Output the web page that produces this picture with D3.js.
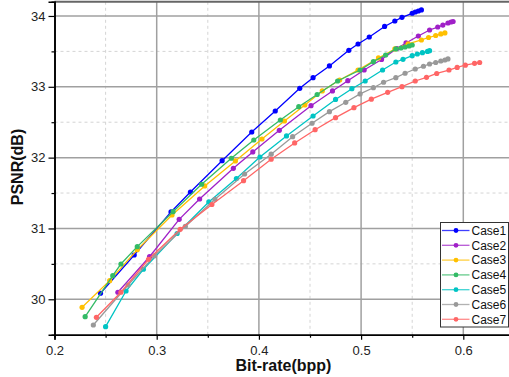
<!DOCTYPE html>
<html><head><meta charset="utf-8">
<script src="https://cdn.jsdelivr.net/npm/d3@7/dist/d3.min.js"></script>
<style>body{margin:0;background:#fff}svg{display:block}text{font-family:"Liberation Sans",Arial,sans-serif}</style>
</head><body><svg id="c" width="509" height="377"></svg>
<script>
const seriesNames = ["Case1","Case2","Case3","Case4","Case5","Case6","Case7"];
const seriesColors = ["#0000ff","#a020c8","#ffc000","#33bb66","#00c4c4","#999999","#ff6666"];
const case1X = [0.245,0.278,0.314,0.333,0.364,0.393,0.416,0.440,0.453,0.469,0.488,0.497,0.508,0.523,0.533,0.540,0.550,0.553,0.556,0.559];
const case1Y = [30.085,30.625,31.233,31.515,31.957,32.362,32.658,32.979,33.129,33.294,33.515,33.604,33.703,33.852,33.929,33.981,34.038,34.056,34.070,34.085];
const case2X = [0.262,0.293,0.322,0.342,0.375,0.394,0.420,0.451,0.472,0.487,0.503,0.520,0.535,0.544,0.556,0.567,0.575,0.580,0.585,0.588,0.590];
const case2Y = [30.099,30.601,31.129,31.416,31.849,32.080,32.386,32.733,32.941,33.086,33.237,33.386,33.541,33.619,33.717,33.802,33.844,33.872,33.901,33.915,33.922];
const case3X = [0.227,0.254,0.281,0.315,0.347,0.377,0.403,0.425,0.445,0.462,0.479,0.497,0.517,0.533,0.546,0.559,0.566,0.573,0.578,0.582];
const case3Y = [29.887,30.263,30.700,31.190,31.600,31.953,32.263,32.517,32.743,32.941,33.096,33.237,33.407,33.534,33.605,33.661,33.696,33.724,33.746,33.760];
const case4X = [0.230,0.257,0.265,0.281,0.316,0.344,0.373,0.395,0.421,0.439,0.457,0.477,0.499,0.512,0.524,0.534,0.539,0.543,0.547,0.550];
const case4Y = [29.754,30.333,30.498,30.743,31.237,31.624,31.991,32.249,32.531,32.719,32.891,33.082,33.237,33.355,33.449,33.534,33.548,33.562,33.576,33.590];
const case5X = [0.250,0.270,0.287,0.320,0.351,0.378,0.401,0.427,0.453,0.475,0.491,0.504,0.521,0.534,0.541,0.550,0.555,0.560,0.565,0.567];
const case5Y = [29.613,30.117,30.424,30.929,31.374,31.705,32.009,32.306,32.588,32.821,32.973,33.082,33.237,33.350,33.388,33.439,33.463,33.482,33.499,33.510];
const case6X = [0.238,0.272,0.298,0.328,0.357,0.386,0.412,0.433,0.452,0.469,0.485,0.499,0.512,0.522,0.534,0.543,0.553,0.561,0.567,0.573,0.578,0.582,0.585];
const case6Y = [29.637,30.202,30.616,31.028,31.412,31.769,32.049,32.296,32.485,32.649,32.781,32.899,32.987,33.064,33.129,33.191,33.251,33.290,33.322,33.343,33.364,33.378,33.393];
const case7X = [0.241,0.265,0.292,0.323,0.354,0.385,0.412,0.435,0.455,0.475,0.493,0.510,0.526,0.540,0.553,0.564,0.574,0.586,0.594,0.602,0.611,0.616];
const case7Y = [29.746,30.099,30.565,30.988,31.338,31.674,31.977,32.207,32.394,32.564,32.705,32.825,32.922,33.002,33.082,33.134,33.188,33.237,33.273,33.305,33.332,33.343];
const xTicks = [0.2,0.3,0.4,0.5,0.6];
const xMinor = [0.25,0.35,0.45,0.55];
const yTicks = [30,31,32,33,34];
const yMinor = [30.5,31.5,32.5,33.5];
const xTitle = "Bit-rate(bpp)";
const yTitle = "PSNR(dB)";

const allX = [case1X,case2X,case3X,case4X,case5X,case6X,case7X];
const allY = [case1Y,case2Y,case3Y,case4Y,case5Y,case6Y,case7Y];
const series = seriesNames.map((n,i)=>({name:n,color:seriesColors[i],pts:allX[i].map((x,j)=>[x,allY[i][j]])}));

const L=54.5, R=514.4, T=1.8, B=334.7;
const x = d3.scaleLinear().domain([0.2,0.65]).range([L,R]);
const y = d3.scaleLinear().domain([29.5,34.2]).range([B,T]);
const svg = d3.select("#c");

// minor grid
svg.append("g").selectAll("line").data(xMinor).join("line")
  .attr("x1",d=>x(d)).attr("x2",d=>x(d)).attr("y1",T).attr("y2",B)
  .attr("stroke","#d4d4d4").attr("stroke-width",1).attr("stroke-dasharray","3,3");
svg.append("g").selectAll("line").data(yMinor).join("line")
  .attr("y1",d=>y(d)).attr("y2",d=>y(d)).attr("x1",L).attr("x2",R)
  .attr("stroke","#d4d4d4").attr("stroke-width",1).attr("stroke-dasharray","3,3");
// major grid
svg.append("g").selectAll("line").data(xTicks.slice(1)).join("line")
  .attr("x1",d=>x(d)).attr("x2",d=>x(d)).attr("y1",T).attr("y2",B)
  .attr("stroke","#a0a0a0").attr("stroke-width",1.5);
svg.append("g").selectAll("line").data(yTicks).join("line")
  .attr("y1",d=>y(d)).attr("y2",d=>y(d)).attr("x1",L).attr("x2",R)
  .attr("stroke","#a0a0a0").attr("stroke-width",1.5);
// top frame
svg.append("line").attr("x1",L).attr("x2",R).attr("y1",T).attr("y2",T).attr("stroke","#666").attr("stroke-width",2);

// axes
const xAxis = svg.append("g").attr("transform",`translate(0,${B})`)
  .call(d3.axisBottom(x).tickValues(xTicks).tickFormat(d3.format(".1f")).tickSize(5).tickPadding(6));
const xAxisMinor = svg.append("g").attr("transform",`translate(0,${B})`)
  .call(d3.axisBottom(x).tickValues(xMinor).tickFormat("").tickSize(3));
const yAxis = svg.append("g").attr("transform",`translate(${L},0)`)
  .call(d3.axisLeft(y).tickValues(yTicks).tickFormat(d3.format("d")).tickSize(6).tickPadding(3));
const yAxisMinor = svg.append("g").attr("transform",`translate(${L},0)`)
  .call(d3.axisLeft(y).tickValues(yMinor).tickFormat("").tickSize(3));
[xAxis,xAxisMinor,yAxis,yAxisMinor].forEach(g=>{
  g.select(".domain").attr("stroke","#000").attr("stroke-width",1.6);
  g.selectAll(".tick line").attr("stroke","#000").attr("stroke-width",1.2);
  g.selectAll("text").attr("font-size",13).attr("fill","#222").attr("font-family","Liberation Sans, Arial, sans-serif");
});

svg.append("text").attr("x",(L+R)/2-1).attr("y",371).attr("text-anchor","middle")
  .attr("font-size",16).attr("font-weight","bold").attr("fill","#111").text(xTitle);
svg.append("text").attr("transform","translate(23,167) rotate(-90)").attr("text-anchor","middle")
  .attr("font-size",16).attr("font-weight","bold").attr("fill","#111").text(yTitle);

// series
const line = d3.line().x(d=>x(d[0])).y(d=>y(d[1]));
const sg = svg.append("g").selectAll("g").data(series).join("g");
sg.append("path").attr("d",d=>line(d.pts)).attr("fill","none").attr("stroke",d=>d.color).attr("stroke-width",1.3);
sg.each(function(s){
  d3.select(this).selectAll("circle").data(s.pts).join("circle")
    .attr("cx",d=>x(d[0])).attr("cy",d=>y(d[1])).attr("r",2.6).attr("fill",s.color);
});

// legend
const lg = svg.append("g");
lg.append("rect").attr("x",440.5).attr("y",222.5).attr("width",68).attr("height",104.5)
  .attr("fill","#fff").attr("stroke","#333").attr("stroke-width",1);
const li = lg.selectAll("g").data(series).join("g").attr("transform",(d,i)=>`translate(0,${230.5+i*14.8})`);
li.append("line").attr("x1",442).attr("x2",469.5).attr("y1",0).attr("y2",0).attr("stroke",d=>d.color).attr("stroke-width",1.3).attr("opacity",0.75);
li.append("circle").attr("cx",456).attr("cy",0).attr("r",2.4).attr("fill",d=>d.color);
li.append("text").attr("x",471.5).attr("y",4.3).attr("font-size",12).attr("fill","#111").text(d=>d.name);
</script></body></html>
